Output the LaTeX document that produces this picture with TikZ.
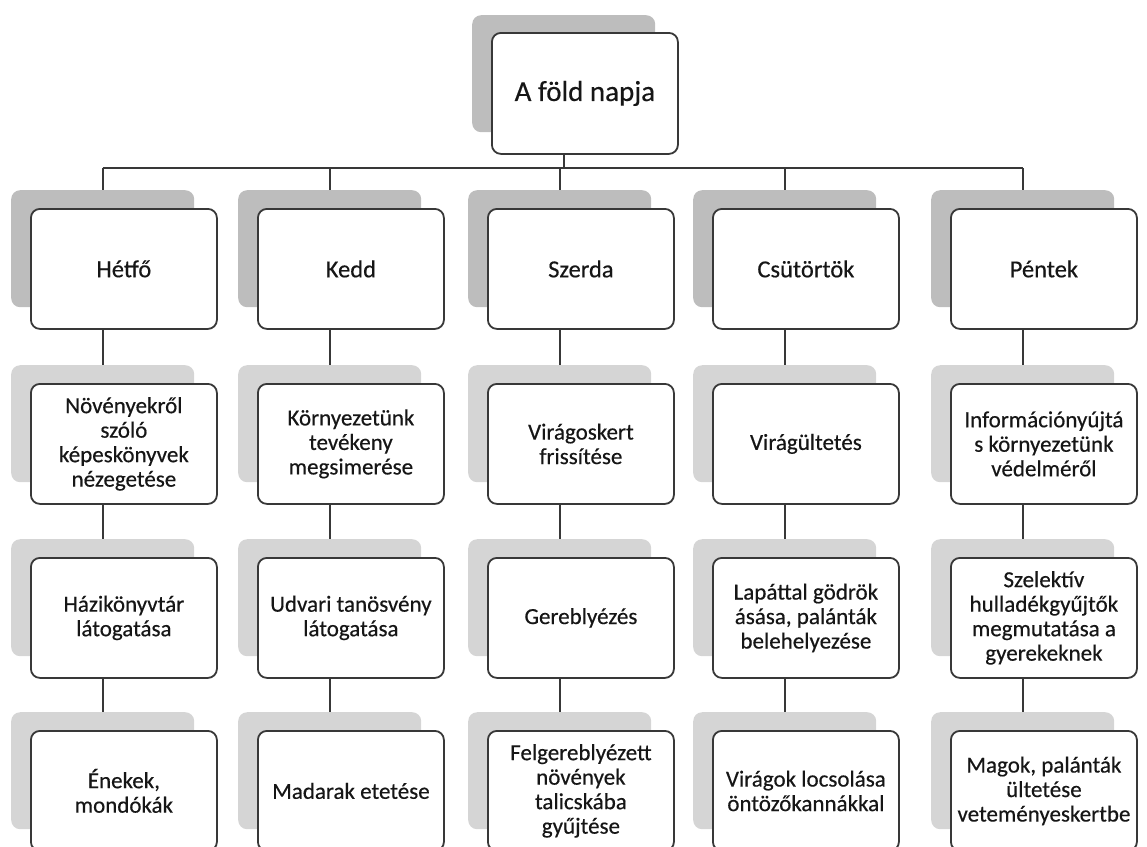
\documentclass[tikz,border=0pt]{standalone}
\usepackage{fontspec}
\setmainfont[FakeBold=0.4]{Carlito}
\pgfdeclarelayer{bg}
\pgfsetlayers{bg,main}
\definecolor{shadeA}{HTML}{BDBDBD}
\definecolor{shadeB}{HTML}{D5D5D5}
\definecolor{edge}{HTML}{383838}
\definecolor{ink}{HTML}{161616}
\tikzset{
  frontbox/.style={draw=edge, line width=1.8pt, fill=white, rounded corners=9pt,
    minimum width=186pt, minimum height=120pt, anchor=north west, align=center,
    text=ink, inner sep=2pt, font=\fontsize{23}{24.5}\selectfont},
  daybox/.style={frontbox, font=\fontsize{24.5}{27}\selectfont},
  rootbox/.style={frontbox, minimum height=121pt, font=\fontsize{29}{32}\selectfont},
  shadowbox/.style={fill=#1, draw=none, rounded corners=9pt, minimum width=183pt,
    minimum height=117pt, anchor=north west, inner sep=0pt},
  link/.style={draw=edge, line width=2pt},
}
\begin{document}
\begin{tikzpicture}[x=1pt, y=-1pt]
\useasboundingbox (0,0) rectangle (1147,846);
\clip (0,0) rectangle (1147,846);
% root
\node[shadowbox=shadeA] (rootS) at (472,15) {};
\node[rootbox] (root) at (491,32) {A föld napja};
% columns: front-left x
\foreach \c/\x in {1/30, 2/257, 3/487, 4/712, 5/950}{
  \pgfmathsetmacro{\sx}{\x-19}
  \node[shadowbox=shadeA] (s\c1) at (\sx,190) {};
  \node[shadowbox=shadeB] (s\c2) at (\sx,365) {};
  \node[shadowbox=shadeB] (s\c3) at (\sx,539) {};
  \node[shadowbox=shadeB] (s\c4) at (\sx,712) {};
}
% level 1
\node[daybox] (b11) at (30,208) {Hétfő};
\node[daybox] (b21) at (257,208) {Kedd};
\node[daybox] (b31) at (487,208) {Szerda};
\node[daybox] (b41) at (712,208) {Csütörtök};
\node[daybox] (b51) at (950,208) {Péntek};
% level 2
\node[frontbox] (b12) at (30,383) {Növényekről\\szóló\\képeskönyvek\\nézegetése};
\node[frontbox] (b22) at (257,383) {Környezetünk\\tevékeny\\megsimerése};
\node[frontbox] (b32) at (487,383) {Virágoskert\\frissítése};
\node[frontbox] (b42) at (712,383) {Virágültetés};
\node[frontbox] (b52) at (950,383) {Információnyújtá\\s környezetünk\\védelméről};
% level 3
\node[frontbox] (b13) at (30,557) {Házikönyvtár\\látogatása};
\node[frontbox] (b23) at (257,557) {Udvari tanösvény\\látogatása};
\node[frontbox] (b33) at (487,557) {Gereblyézés};
\node[frontbox] (b43) at (712,557) {Lapáttal gödrök\\ásása, palánták\\belehelyezése};
\node[frontbox] (b53) at (950,557) {Szelektív\\hulladékgyűjtők\\megmutatása a\\gyerekeknek};
% level 4
\node[frontbox] (b14) at (30,730) {Énekek,\\mondókák};
\node[frontbox] (b24) at (257,730) {Madarak etetése};
\node[frontbox] (b34) at (487,730) {Felgereblyézett\\növények\\talicskába\\gyűjtése};
\node[frontbox] (b44) at (712,730) {Virágok locsolása\\öntözőkannákkal};
\node[frontbox] (b54) at (950,730) {Magok, palánták\\ültetése\\veteményeskertbe};
% connectors
\coordinate (bus) at (0,168);
\begin{pgfonlayer}{bg}
  \draw[link] (rootS.south) -- (rootS.south |- bus);
  \draw[link] (s11.north |- bus) -- (s51.north |- bus);
  \foreach \c in {1,...,5}{
    \draw[link] (s\c1.north |- bus) -- (s\c1.north);
    \draw[link] (s\c1.south) -- (s\c2.north);
    \draw[link] (s\c2.south) -- (s\c3.north);
    \draw[link] (s\c3.south) -- (s\c4.north);
  }
\end{pgfonlayer}
\end{tikzpicture}
\end{document}
